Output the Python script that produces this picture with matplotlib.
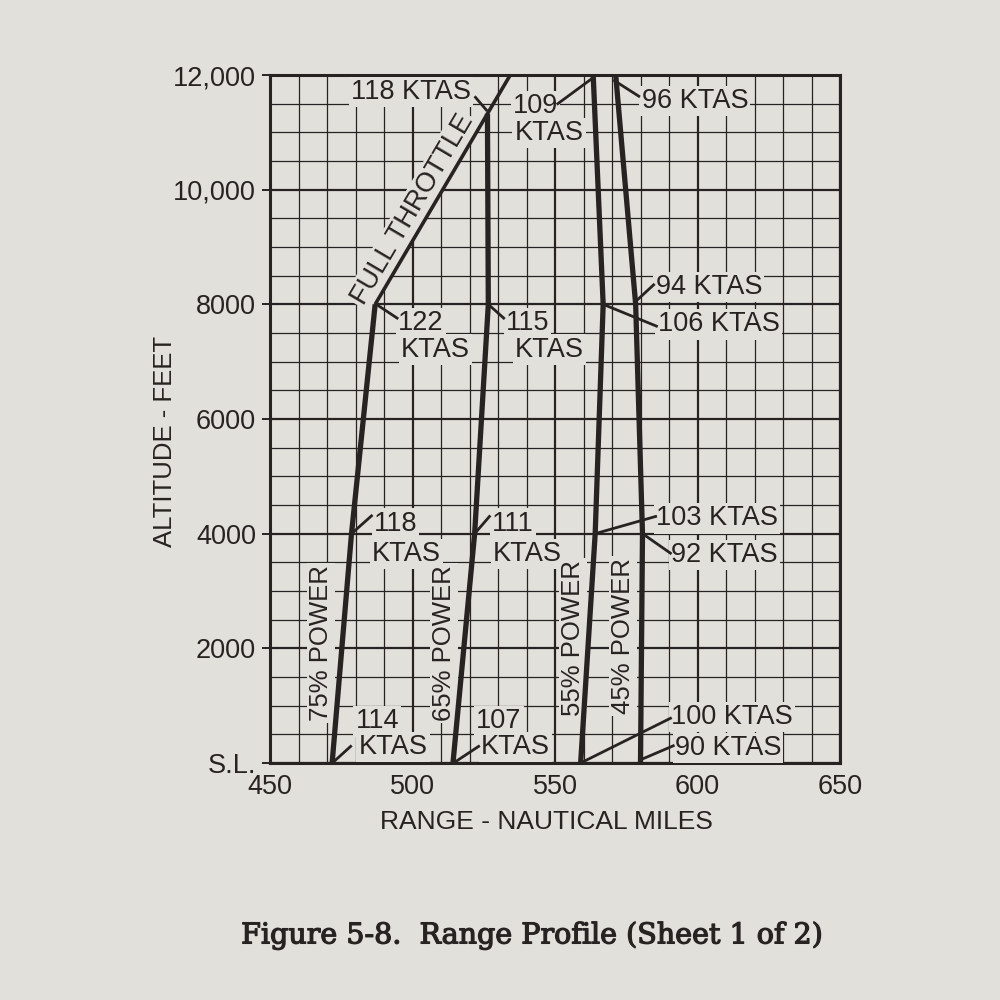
import matplotlib
matplotlib.use("Agg")
import matplotlib.pyplot as plt
import matplotlib.patheffects as pe
import numpy as np

# ---------------- data ----------------
alt_75 = [0, 4000, 8000]
rng_75 = [471.8, 478.6, 486.9]

alt_full = [8000, 12000]
rng_full = [486.9, 534.3]

alt_65 = [0, 4000, 8000, 11325]
rng_65 = [514.2, 521.8, 526.6, 526.3]

alt_55 = [0, 4000, 8000, 12000]
rng_55 = [559.0, 564.1, 566.9, 563.4]

alt_45 = [0, 4000, 8000, 12000]
rng_45 = [580.0, 580.7, 578.3, 571.3]

x_ticks = [450, 500, 550, 600, 650]
x_tick_labels = ["450", "500", "550", "600", "650"]
y_ticks = [0, 2000, 4000, 6000, 8000, 10000, 12000]
y_tick_labels = ["S.L.", "2000", "4000", "6000", "8000", "10,000", "12,000"]

# KTAS annotation labels: text, x, y
ktas_labels = [
    ("118 KTAS", 520.5, 11700, "right"),
    ("109", 535.2, 11460, "left"),
    ("KTAS", 535.8, 10990, "left"),
    ("96 KTAS", 580.4, 11545, "left"),
    ("94 KTAS", 585.3, 8300, "left"),
    ("106 KTAS", 586.0, 7650, "left"),
    ("122", 495.0, 7670, "left"),
    ("KTAS", 496.0, 7210, "left"),
    ("115", 532.7, 7670, "left"),
    ("KTAS", 536.0, 7210, "left"),
    ("118", 486.4, 4177, "left"),
    ("KTAS", 485.7, 3650, "left"),
    ("111", 527.9, 4177, "left"),
    ("KTAS", 528.2, 3650, "left"),
    ("103 KTAS", 585.4, 4265, "left"),
    ("92 KTAS", 590.7, 3630, "left"),
    ("114", 480.0, 725, "left"),
    ("KTAS", 481.0, 283, "left"),
    ("107", 522.4, 725, "left"),
    ("KTAS", 524.0, 283, "left"),
    ("100 KTAS", 590.7, 800, "left"),
    ("90 KTAS", 592.0, 265, "left"),
]

# leader lines: x0, y0, x1, y1
leaders = [
    (522.1, 11610, 525.9, 11390),
    (551.0, 11500, 563.3, 11950),
    (570.9, 11900, 579.4, 11630),
    (578.3, 8050, 584.6, 8340),
    (566.9, 8000, 585.6, 7620),
    (487.3, 8000, 494.6, 7760),
    (526.6, 8000, 532.0, 7760),
    (478.6, 4000, 485.6, 4310),
    (521.8, 4000, 527.0, 4300),
    (564.1, 4000, 585.3, 4300),
    (580.7, 4000, 590.5, 3660),
    (472.3, 20, 478.3, 290),
    (515.0, 20, 523.2, 290),
    (559.0, 0, 590.5, 780),
    (580.2, 60, 591.5, 300),
]

power_labels = [
    ("75% POWER", 467.9, 2100),
    ("65% POWER", 511.0, 2090),
    ("55% POWER", 556.2, 2180),
    ("45% POWER", 574.0, 2210),
]

# ---------------- style ----------------
paper = "#e2e0db"
ink = "#272322"
plt.rcParams["font.family"] = ["Liberation Sans", "DejaVu Sans"]
thick = [pe.withStroke(linewidth=0.5, foreground=ink)]

fig = plt.figure(figsize=(10, 10), dpi=100, facecolor=paper)
ax = fig.add_axes([0.27, 0.237, 0.57, 0.688], facecolor=paper)
ax.set_xlim(450, 650)
ax.set_ylim(0, 12000)

ax.set_xticks(x_ticks)
ax.set_xticklabels(x_tick_labels)
ax.set_yticks(y_ticks)
ax.set_yticklabels(y_tick_labels)
ax.set_xticks(np.arange(450, 651, 10), minor=True)
ax.set_yticks(np.arange(0, 12001, 500), minor=True)
ax.grid(which="major", color=ink, lw=1.6, zorder=1)
ax.grid(which="minor", color=ink, lw=0.9, zorder=1)
ax.set_axisbelow(True)
ax.tick_params(axis="both", which="minor", length=0)
ax.tick_params(axis="x", which="major", length=0, pad=8, labelsize=19.5, colors=ink)
ax.tick_params(axis="y", which="major", length=6, width=1.4, pad=4, labelsize=19.5, colors=ink)
for s in ax.spines.values():
    s.set_color(ink)
    s.set_linewidth(2.2)

ax.set_xlabel("RANGE - NAUTICAL MILES", fontsize=19, color=ink)
ax.xaxis.set_label_coords((546 - 270) / 570, -(822 - 763) / 688, transform=ax.transAxes)
ax.xaxis.label.set_va("center")
ax.set_ylabel("ALTITUDE - FEET", fontsize=18.5, color=ink)
ax.yaxis.set_label_coords(-(270 - 165) / 570, (763 - 441) / 688, transform=ax.transAxes)
ax.yaxis.label.set_va("center")

# curves
for xs, ys in [(rng_75, alt_75), (rng_65, alt_65), (rng_55, alt_55), (rng_45, alt_45)]:
    ax.plot(xs, ys, color=ink, lw=3.8, solid_capstyle="butt", solid_joinstyle="miter", zorder=6, clip_on=False)
ax.plot(rng_full, alt_full, color=ink, lw=2.6, solid_capstyle="butt", zorder=6, clip_on=False)

for x0, y0, x1, y1 in leaders:
    ax.plot([x0, x1], [y0, y1], color=ink, lw=2.0, zorder=5)

box = dict(facecolor=paper, edgecolor="none", pad=1.5)
for t, x, y, ha in ktas_labels:
    ax.text(x, y, t, fontsize=19.5, color=ink, ha=ha, va="center", bbox=box, zorder=4)

for t, x, y in power_labels:
    ax.text(x, y, t, fontsize=18.5, color=ink, ha="center", va="center", rotation=90,
            bbox=box, zorder=4)

# FULL THROTTLE label along the line
fig.canvas.draw()
p0 = ax.transData.transform((rng_full[0], alt_full[0]))
p1 = ax.transData.transform((rng_full[1], alt_full[1]))
ang = np.degrees(np.arctan2(p1[1] - p0[1], p1[0] - p0[0]))
ax.text(500.0, 9650, "FULL THROTTLE", fontsize=19.5, color=ink, ha="center", va="center",
        rotation=ang, rotation_mode="anchor", bbox=box, zorder=4)

cap = fig.text(0.531, 0.065, "Figure 5-8.  Range Profile (Sheet 1 of 2)", fontsize=18,
               family=["DejaVu Serif"], color=ink, ha="center", va="center",
               path_effects=[pe.withStroke(linewidth=0.9, foreground=ink)])
fig.canvas.draw()
w = cap.get_window_extent().width
cap.set_fontsize(18 * 582 / w)

fig.savefig("out.png", dpi=100, facecolor=paper)
